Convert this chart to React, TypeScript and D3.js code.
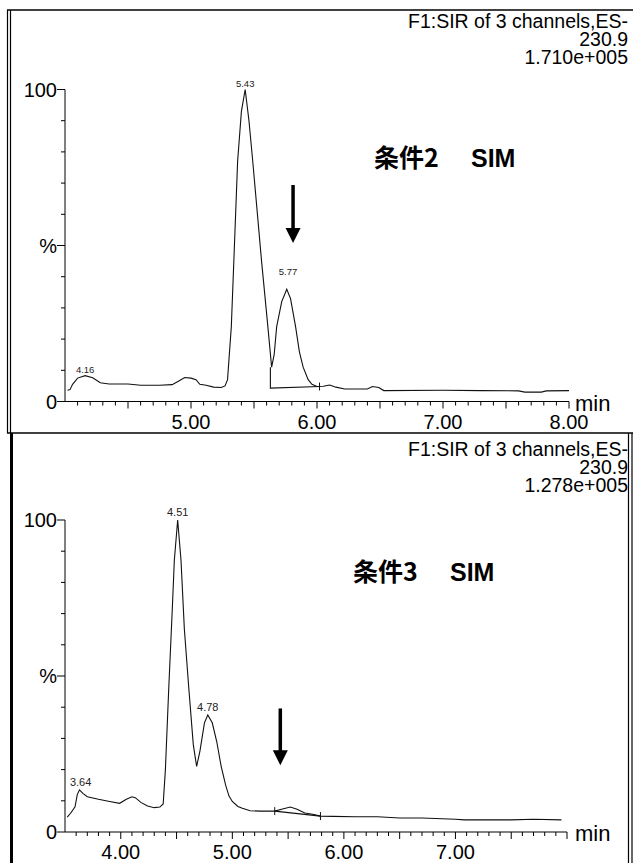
import React from 'react';
import * as d3 from 'd3';

// ---- top chromatogram (条件2 SIM) ----
const topTime = [
  4.02, 4.04, 4.06, 4.10, 4.16, 4.22, 4.28, 4.35, 4.50, 4.60, 4.75, 4.85, 4.90, 4.95, 5.00, 5.04, 5.07,
  5.12, 5.18, 5.24, 5.27, 5.29, 5.32, 5.34, 5.37, 5.40, 5.43, 5.46, 5.49, 5.56, 5.61, 5.64, 5.66, 5.68,
  5.72, 5.76, 5.79, 5.83, 5.86, 5.89, 5.93, 5.96, 6.00, 6.05, 6.10, 6.15, 6.22, 6.40, 6.44, 6.49, 6.53,
  7.00, 7.30, 7.60, 7.65, 7.78, 7.82, 8.00,
];
const topPct = [
  3.6, 3.8, 5.5, 7.5, 8.3, 7.6, 6.0, 5.6, 5.6, 5.2, 5.2, 5.4, 6.5, 7.7, 7.5, 7.0, 5.5,
  5.2, 4.6, 4.5, 5.0, 7, 24, 45, 77, 93, 100, 90, 77, 45, 24, 11, 15, 24,
  32, 36, 33, 24, 16, 11, 7, 5.5, 4.8, 4.9, 5.3, 4.6, 4.0, 4.0, 4.8, 4.5, 3.5,
  3.6, 3.5, 3.4, 3.0, 3.0, 3.4, 3.5,
];
const topPeakTimes = [4.16, 5.43, 5.77];
const topPeakLabels = ['4.16', '5.43', '5.77'];
const topBaseTime = [5.63, 5.63, 6.02];
const topBasePct = [11, 4.3, 4.8];
const topTickLabels = ['5.00', '6.00', '7.00', '8.00'];
const topHeader = ['F1:SIR of 3 channels,ES-', '230.9', '1.710e+005'];

// ---- bottom chromatogram (条件3 SIM) ----
const botTime = [
  3.52, 3.55, 3.59, 3.61, 3.63, 3.66, 3.70, 3.80, 3.90, 3.99, 4.05, 4.10, 4.13, 4.18, 4.24, 4.30, 4.35,
  4.38, 4.40, 4.43, 4.46, 4.48, 4.51, 4.54, 4.57, 4.61, 4.65, 4.68, 4.71, 4.75, 4.78, 4.82, 4.86, 4.90,
  4.94, 4.97, 5.00, 5.05, 5.09, 5.16, 5.25, 5.38, 5.45, 5.52, 5.58, 5.65, 5.72, 5.79, 5.90, 6.10, 6.30,
  6.50, 6.70, 7.00, 7.08, 7.50, 7.70, 7.95,
];
const botPct = [
  4.8, 6.0, 8.1, 12, 13.5, 12.4, 11.3, 10.5, 9.8, 9.2, 10.5, 11.3, 11.0, 9.5, 8.3, 7.8, 8.0,
  9.0, 20, 46, 70, 87, 100, 87, 65, 46, 28, 21, 26, 35, 37.5, 35, 29, 21,
  15, 11.5, 9.8, 8.2, 7.6, 6.8, 6.7, 6.7, 7.4, 8.0, 7.3, 6.1, 5.7, 5.1, 5.0, 4.9, 4.9,
  4.5, 4.5, 4.1, 3.9, 3.9, 4.1, 3.9,
];
const botPeakTimes = [3.64, 4.51, 4.78];
const botPeakLabels = ['3.64', '4.51', '4.78'];
const botBaseTime = [5.38, 5.79];
const botBasePct = [6.7, 5.1];
const botTickLabels = ['4.00', '5.00', '6.00', '7.00'];
const botHeader = ['F1:SIR of 3 channels,ES-', '230.9', '1.278e+005'];

const SANS = '"Liberation Sans", Arial, sans-serif';
const CJK = '"Noto Sans CJK JP", "Noto Sans CJK SC", sans-serif';

function Panel({ cfg }: { cfg: any }) {
  const x = d3.scaleLinear().domain(cfg.xDomain).range([65, cfg.xEnd]);
  const y = d3.scaleLinear().domain([0, 100]).range([cfg.y0, cfg.y100]);

  const trace = d3.line<number>()
    .x((d, i) => x(cfg.times[i]))
    .y(d => y(d));
  const base = d3.line<number>()
    .x((d, i) => x(cfg.baseTimes[i]))
    .y(d => y(d));

  // peak height = highest trace point close to the labelled time
  const peakValue = (t: number) =>
    d3.max(cfg.values.filter((v: number, i: number) => Math.abs(cfg.times[i] - t) <= 0.021)) as number;

  const [d0, d1] = cfg.xDomain;
  const minor = d3.range(Math.round(d0 * 10) + 1, Math.round(d1 * 10) + 1);
  const yTicks = d3.range(0, 101, 10);
  const yLabels: Record<number, string> = { 0: '0', 50: '%', 100: '100' };

  const arrowTop = y(cfg.arrow[1]);
  const arrowTip = y(cfg.arrow[2]);
  const ax = x(cfg.arrow[0]);

  return (
    <g>
      {/* header */}
      {cfg.header.map((s: string, i: number) => (
        <text key={i} x={628} y={cfg.headerY + i * 18} textAnchor="end" fontSize={19.5} fontFamily={SANS}>{s}</text>
      ))}

      {/* y axis */}
      <line x1={65} x2={65} y1={y(100)} y2={y(0)} stroke="#000" />
      {yTicks.map(v => (
        <line key={v} x1={yLabels[v] ? 57 : 61} x2={65} y1={y(v)} y2={y(v)} stroke="#000" />
      ))}
      {yTicks.filter(v => yLabels[v]).map(v => (
        <text key={'l' + v} x={57} y={y(v) + 7} textAnchor="end" fontSize={20} fontFamily={SANS}>{yLabels[v]}</text>
      ))}

      {/* x axis */}
      <line x1={65} x2={cfg.xEnd} y1={y(0)} y2={y(0)} stroke="#000" />
      {minor.map(k => (
        <line key={k} x1={x(k / 10)} x2={x(k / 10)} y1={y(0)} y2={y(0) + (k % 5 === 0 ? 7 : 4)} stroke="#000" />
      ))}
      {cfg.tickLabels.map((s: string) => (
        <text key={s} x={x(+s)} y={y(0) + 27} textAnchor="middle" fontSize={20} fontFamily={SANS}>{s}</text>
      ))}
      <text x={575} y={y(0) + 9} fontSize={22} fontFamily={SANS}>min</text>

      {/* trace */}
      <path d={trace(cfg.values) as string} fill="none" stroke="#111" strokeWidth={1.1} />
      <path d={base(cfg.baseValues) as string} fill="none" stroke="#111" strokeWidth={1.1} />
      {cfg.markers.map((i: number) => (
        <line key={'m' + i} x1={x(cfg.baseTimes[i])} x2={x(cfg.baseTimes[i])}
          y1={y(cfg.baseValues[i]) - 4} y2={y(cfg.baseValues[i]) + 4} stroke="#111" />
      ))}

      {/* peak labels */}
      {cfg.peakTimes.map((t: number, i: number) => (
        <text key={'p' + i} x={x(t)} y={y(peakValue(t)) - cfg.labelLift[i]} textAnchor="middle"
          fontSize={cfg.peakFont} fontFamily={SANS} fill="#222">{cfg.peakLabels[i]}</text>
      ))}

      {/* arrow */}
      <line x1={ax} x2={ax} y1={arrowTop} y2={arrowTip - 14} stroke="#000" strokeWidth={3.5} />
      <path d={`M${ax - 7.5},${arrowTip - 15}L${ax + 7.5},${arrowTip - 15}L${ax},${arrowTip}Z`} fill="#000" />

      {/* condition title */}
      <text x={cfg.titleX} y={cfg.titleY} fontSize={25} fontWeight="bold" fontFamily={CJK}>{cfg.title}</text>
      <text x={cfg.titleX + 97} y={cfg.titleY} fontSize={25} fontWeight="bold" fontFamily={SANS}>SIM</text>
    </g>
  );
}

const topCfg = {
  xDomain: [4.0, 8.0], xEnd: 569, y0: 401.5, y100: 89.5,
  times: topTime, values: topPct, baseTimes: topBaseTime, baseValues: topBasePct, markers: [2],
  peakTimes: topPeakTimes, peakLabels: topPeakLabels, labelLift: [3, 3, 14], peakFont: 9.5,
  tickLabels: topTickLabels, header: topHeader, headerY: 28,
  arrow: [5.81, 69.4, 50.8], title: '条件2', titleX: 374, titleY: 167,
};

const botCfg = {
  xDomain: [3.5, 8.0], xEnd: 567, y0: 832, y100: 520,
  times: botTime, values: botPct, baseTimes: botBaseTime, baseValues: botBasePct, markers: [0, 1],
  peakTimes: botPeakTimes, peakLabels: botPeakLabels, labelLift: [4, 4, 4], peakFont: 11,
  tickLabels: botTickLabels, header: botHeader, headerY: 456,
  arrow: [5.43, 39.6, 21.4], title: '条件3', titleX: 353, titleY: 581,
};

export default function App() {
  return (
    <svg width={633} height={863} style={{ position: 'absolute', left: 0, top: 0, background: '#fff' }}>
      <rect x={0} y={0} width={633} height={863} fill="#fff" />
      {/* frames */}
      <line x1={7} x2={633} y1={10} y2={10} stroke="#000" strokeWidth={1.5} />
      <line x1={7.5} x2={7.5} y1={10} y2={433} stroke="#000" strokeWidth={1.2} />
      <line x1={10.5} x2={10.5} y1={10} y2={433} stroke="#000" strokeWidth={1.2} />
      <line x1={7} x2={633} y1={433} y2={433} stroke="#000" strokeWidth={1.5} />
      <line x1={11.5} x2={11.5} y1={433} y2={863} stroke="#000" strokeWidth={3} />
      <line x1={628.5} x2={628.5} y1={433} y2={863} stroke="#000" strokeWidth={1.2} />
      <line x1={632} x2={632} y1={433} y2={863} stroke="#000" strokeWidth={1.2} />
      <Panel cfg={topCfg} />
      <Panel cfg={botCfg} />
    </svg>
  );
}
